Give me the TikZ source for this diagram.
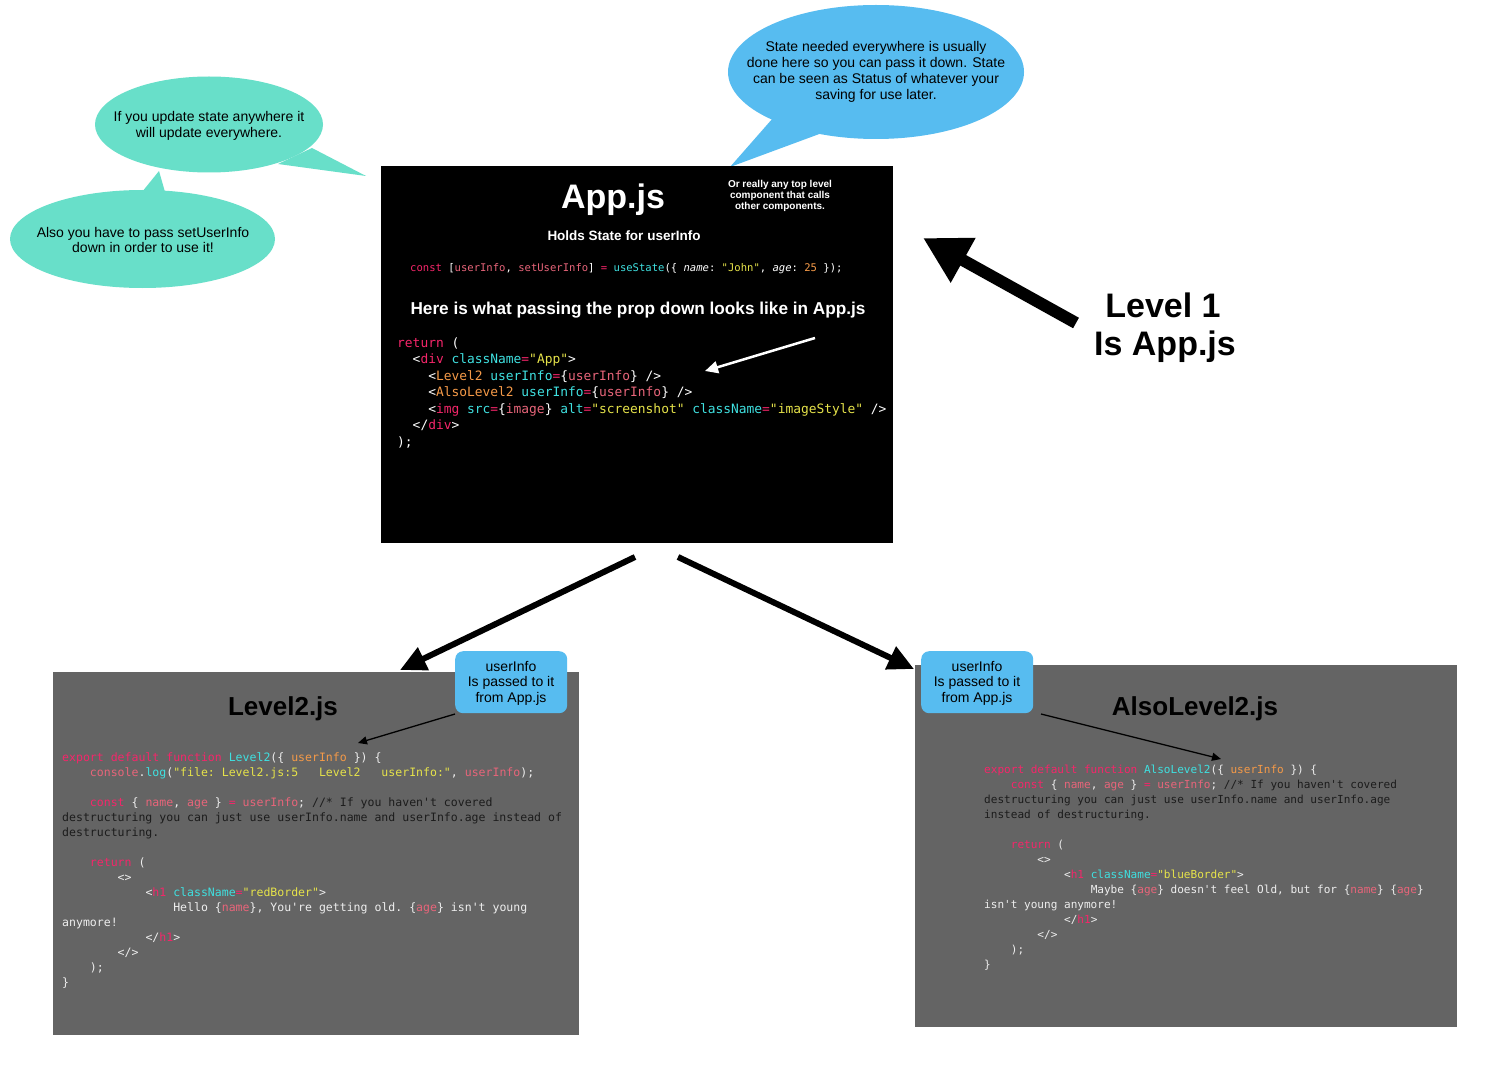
\documentclass[tikz,border=0pt]{standalone}
\usepackage{fontspec}
\setmainfont{Liberation Sans}
\setsansfont{Liberation Sans}
\setmonofont{DejaVu Sans Mono}
\usetikzlibrary{arrows.meta,shapes.geometric}
\definecolor{bubteal}{HTML}{68DFC9}
\definecolor{bubblue}{HTML}{57BCF0}
\definecolor{graybg}{HTML}{646464}
\definecolor{ckw}{HTML}{F5266A}
\definecolor{ccy}{HTML}{3FE0E0}
\definecolor{cyl}{HTML}{E6E34A}
\definecolor{cor}{HTML}{F59A48}
\definecolor{csa}{HTML}{E8657A}
\definecolor{ccm}{HTML}{1C1C1C}
\definecolor{cwh}{HTML}{EEEEEE}
\newcommand\kw[1]{\textcolor{ckw}{#1}}
\newcommand\cy[1]{\textcolor{ccy}{#1}}
\newcommand\yl[1]{\textcolor{cyl}{#1}}
\newcommand\orn[1]{\textcolor{cor}{#1}}
\newcommand\sal[1]{\textcolor{csa}{#1}}
\newcommand\cmt[1]{\textcolor{ccm}{#1}}
\newcommand\ind[1]{\hspace*{#1\fontcharwd\font32 }}
\begin{document}
\begin{tikzpicture}[x=1pt,y=-1pt,
  bubtext/.style={align=center, inner sep=0pt, font=\fontsize{14}{15.8}\selectfont, text=black},
  panel/.style={anchor=north west, inner sep=0pt, draw=none},
  tag/.style={anchor=north west, fill=bubblue, rounded corners=8pt, minimum width=112pt, minimum height=62pt, inner sep=0pt},
  tagtext/.style={align=center, inner sep=0pt, font=\fontsize{14}{15.5}\selectfont, text=black},
  title/.style={anchor=base, inner sep=0pt, font=\bfseries\fontsize{26}{30}\selectfont, text=black},
  codeapp/.style={anchor=base west, inner sep=0pt, text=white, font=\ttfamily\fontsize{12.9}{15}\selectfont},
  codeconst/.style={anchor=base west, inner sep=0pt, text=white, font=\ttfamily\fontsize{10.56}{13}\selectfont},
  codeL/.style={anchor=base west, inner sep=0pt, text=cwh, font=\ttfamily\fontsize{11.53}{14}\selectfont},
  codeR/.style={anchor=base west, inner sep=0pt, text=cwh, font=\ttfamily\fontsize{11.06}{14}\selectfont},
  bigarrow/.style={line width=12pt, -{Triangle[length=46pt,width=48pt]}},
  midarrow/.style={line width=6pt, -{Triangle[length=26pt,width=24pt]}},
  thinarrow/.style={line width=1.3pt, -{Triangle[length=9pt,width=8pt]}}
]
\useasboundingbox (0,0) rectangle (1498,1067);
\fill[white] (0,0) rectangle (1498,1067);

% ---- speech bubbles
\node[ellipse, fill=bubteal, minimum width=228pt, minimum height=96pt, inner sep=0pt] (e1) at (209,124.5) {};
\coordinate (e1a) at (312,148); \coordinate (e1tip) at (366,176); \coordinate (e1b) at (278,164);
\fill[bubteal] (e1a) -- (e1tip) -- (e1b) -- cycle;
\node[ellipse, fill=bubteal, minimum width=265pt, minimum height=98pt, inner sep=0pt] (e2) at (142.5,239) {};
\coordinate (e2a) at (142,192); \coordinate (e2tip) at (159,171); \coordinate (e2b) at (165,192);
\fill[bubteal] (e2a) -- (e2tip) -- (e2b) -- cycle;
\node[ellipse, fill=bubblue, minimum width=296pt, minimum height=134pt, inner sep=0pt] (e3) at (876,72) {};
\coordinate (e3a) at (773,118); \coordinate (e3tip) at (730,167); \coordinate (e3b) at (822,133);
\fill[bubblue] (e3a) -- (e3tip) -- (e3b) -- cycle;

\node[bubtext] (t1) at (209,126) {If you update state anywhere it\\will update everywhere.};
\node[bubtext] (t2) at (143,240) {Also you have to pass setUserInfo\\down in order to use it!};
\node[bubtext] (t3) at (876,72) {State needed everywhere is usually\\done here so you can pass it down. State\\can be seen as Status of whatever your\\saving for use later.};

% ---- App.js panel
\node[panel, fill=black, minimum width=512pt, minimum height=377pt] (app) at (381,166) {};
\node[anchor=base, inner sep=0pt, text=white, font=\bfseries\fontsize{34}{38}\selectfont] (apptitle) at (613,209) {App.js};
\node[anchor=base, inner sep=0pt, text=white, font=\bfseries\fontsize{13.5}{16}\selectfont] (holds) at (624,241) {Holds State for userInfo};
\node[align=center, inner sep=0pt, text=white, font=\bfseries\fontsize{10}{11}\selectfont] (orreally) at (780,196) {Or really any top level\\component that calls\\other components.};
\node[codeconst] (cst) at (410,271) {\kw{const} [\sal{userInfo}, \sal{setUserInfo}] \kw{=} \cy{useState}(\{ \textit{name}: \yl{"John"}, \textit{age}: \orn{25} \});};
\node[anchor=base, inner sep=0pt, text=white, font=\bfseries\fontsize{17.2}{20}\selectfont] (here) at (638,314) {Here is what passing the prop down looks like in App.js};
\node[codeapp] (r1) at (397,347) {\kw{return} (};
\node[codeapp] (r2) at (397,363.5) {\ind{2}<\kw{div} \cy{className}\kw{=}\yl{"App"}>};
\node[codeapp] (r3) at (397,380) {\ind{4}<\orn{Level2} \cy{userInfo}\kw{=}\{\sal{userInfo}\} />};
\node[codeapp] (r4) at (397,396.5) {\ind{4}<\orn{AlsoLevel2} \cy{userInfo}\kw{=}\{\sal{userInfo}\} />};
\node[codeapp] (r5) at (397,413) {\ind{4}<\kw{img} \cy{src}\kw{=}\{\sal{image}\} \cy{alt}\kw{=}\yl{"screenshot"} \cy{className}\kw{=}\yl{"imageStyle"} />};
\node[codeapp] (r6) at (397,429.5) {\ind{2}</\kw{div}>};
\node[codeapp] (r7) at (397,446) {);};
\coordinate (wa1) at (815,338); \coordinate (wa2) at (705,371);
\draw[white, line width=2.5pt, -{Triangle[length=13pt,width=12pt]}] (wa1) -- (wa2);

% ---- Level 1 label
\node[anchor=base, inner sep=0pt, font=\bfseries\fontsize{34}{38}\selectfont] (lvl1) at (1163,317) {Level 1};
\node[anchor=base, inner sep=0pt, font=\bfseries\fontsize{34}{38}\selectfont] (isapp) at (1165,355) {Is App.js};
\coordinate (bigS) at (1076,323); \coordinate (bigE) at (923,238);
\draw[bigarrow] (bigS) -- (bigE);

% ---- Level2 panel
\node[panel, fill=graybg, minimum width=526pt, minimum height=363pt] (lv2) at (53,672) {};
\node[title] (lv2t) at (283,715) {Level2.js};
\node[codeL] (a0) at (62,761) {\kw{export default function} \cy{Level2}(\{ \orn{userInfo} \}) \{};
\node[codeL] (a1) at (62,776) {\ind{4}\sal{console}.\cy{log}(\yl{"file: Level2.js:5\ \ \ Level2\ \ \ userInfo:"}, \sal{userInfo});};
\node[codeL] (a3) at (62,806) {\ind{4}\kw{const} \{ \sal{name}, \sal{age} \} \kw{=} \sal{userInfo}; \cmt{//* If you haven't covered}};
\node[codeL] (a4) at (62,821) {\cmt{destructuring you can just use userInfo.name and userInfo.age instead of}};
\node[codeL] (a5) at (62,836) {\cmt{destructuring.}};
\node[codeL] (a7) at (62,866) {\ind{4}\kw{return} (};
\node[codeL] (a8) at (62,881) {\ind{8}<>};
\node[codeL] (a9) at (62,896) {\ind{12}<\kw{h1} \cy{className}\kw{=}\yl{"redBorder"}>};
\node[codeL] (a10) at (62,911) {\ind{16}Hello \{\sal{name}\}, You're getting old. \{\sal{age}\} isn't young};
\node[codeL] (a11) at (62,926) {anymore!};
\node[codeL] (a12) at (62,941) {\ind{12}</\kw{h1}>};
\node[codeL] (a13) at (62,956) {\ind{8}</>};
\node[codeL] (a14) at (62,971) {\ind{4});};
\node[codeL] (a15) at (62,986) {\}};

% ---- AlsoLevel2 panel
\node[panel, fill=graybg, minimum width=542pt, minimum height=362pt] (alv2) at (915,665) {};
\node[title] (alv2t) at (1195,715) {AlsoLevel2.js};
\node[codeR] (b0) at (984,773) {\kw{export default function} \cy{AlsoLevel2}(\{ \orn{userInfo} \}) \{};
\node[codeR] (b1) at (984,788) {\ind{4}\kw{const} \{ \sal{name}, \sal{age} \} \kw{=} \sal{userInfo}; \cmt{//* If you haven't covered}};
\node[codeR] (b2) at (984,803) {\cmt{destructuring you can just use userInfo.name and userInfo.age}};
\node[codeR] (b3) at (984,818) {\cmt{instead of destructuring.}};
\node[codeR] (b5) at (984,848) {\ind{4}\kw{return} (};
\node[codeR] (b6) at (984,863) {\ind{8}<>};
\node[codeR] (b7) at (984,878) {\ind{12}<\kw{h1} \cy{className}\kw{=}\yl{"blueBorder"}>};
\node[codeR] (b8) at (984,893) {\ind{16}Maybe \{\sal{age}\} doesn't feel Old, but for \{\sal{name}\} \{\sal{age}\}};
\node[codeR] (b9) at (984,908) {isn't young anymore!};
\node[codeR] (b10) at (984,923) {\ind{12}</\kw{h1}>};
\node[codeR] (b11) at (984,938) {\ind{8}</>};
\node[codeR] (b12) at (984,953) {\ind{4});};
\node[codeR] (b13) at (984,968) {\}};

% ---- tags
\node[tag] (tagL) at (455,651) {};
\node[tagtext] (tagLt) at (511,683) {userInfo\\Is passed to it\\from App.js};
\node[tag] (tagR) at (921,651) {};
\node[tagtext] (tagRt) at (977,683) {userInfo\\Is passed to it\\from App.js};

% ---- connectors
\coordinate (mL1) at (635,557); \coordinate (mL2) at (400,670);
\draw[midarrow] (mL1) -- (mL2);
\coordinate (mR1) at (678,557); \coordinate (mR2) at (914,669);
\draw[midarrow] (mR1) -- (mR2);
\coordinate (tL1) at (455,714); \coordinate (tL2) at (358,743);
\draw[thinarrow] (tL1) -- (tL2);
\coordinate (tR1) at (1041,714); \coordinate (tR2) at (1221,759);
\draw[thinarrow] (tR1) -- (tR2);
\end{tikzpicture}
\end{document}
